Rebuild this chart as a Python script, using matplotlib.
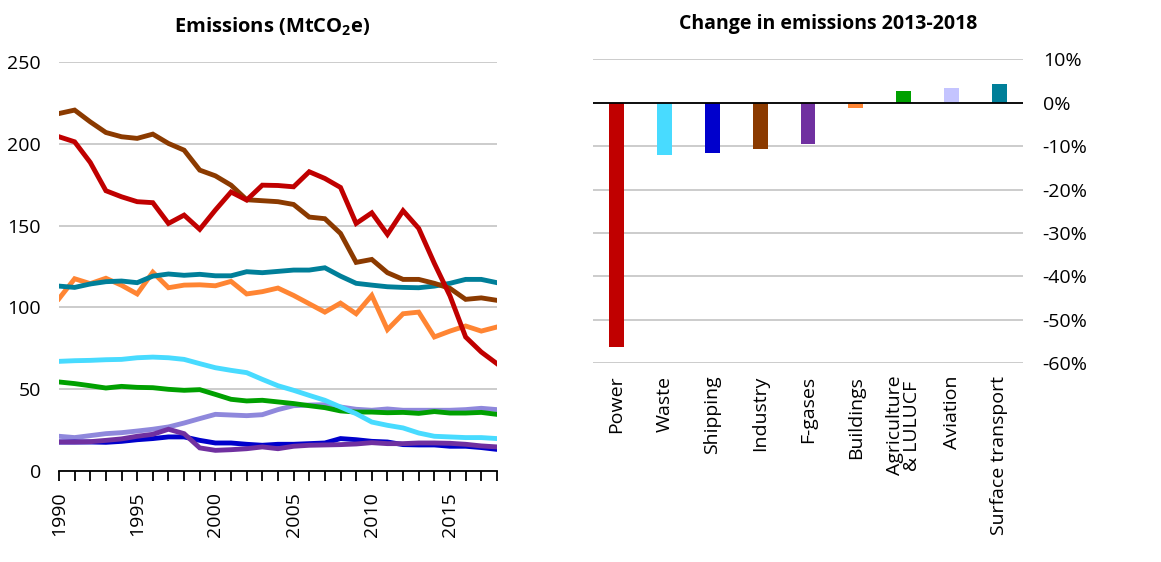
import matplotlib
matplotlib.use("Agg")
import matplotlib.pyplot as plt
import numpy as np

plt.rcParams['font.family'] = ['Open Sans', 'DejaVu Sans']

years = list(range(1990, 2019))

power = [204.3, 201.2, 188.6, 171.3, 167.6, 164.6, 164.0, 151.3, 156.4, 147.7,
         159.5, 170.5, 165.6, 174.7, 174.5, 173.7, 182.9, 178.8, 173.3, 151.3,
         157.8, 144.6, 159.1, 148.3, 126.9, 107.0, 81.9, 72.7, 65.6]
industry = [218.5, 220.6, 213.4, 206.9, 204.3, 203.3, 205.9, 200.2, 196.1, 183.9,
            180.4, 174.7, 165.8, 165.2, 164.6, 162.9, 155.2, 154.2, 145.2, 127.5,
            129.3, 121.2, 117.1, 117.1, 114.7, 111.6, 104.9, 105.8, 104.3]
surface_transport = [113.0, 112.2, 114.3, 115.7, 116.1, 115.1, 119.1, 120.4, 119.6, 120.2,
                     119.3, 119.3, 121.8, 121.2, 122.0, 122.8, 122.8, 124.2, 119.1, 114.7,
                     113.6, 112.6, 112.2, 112.0, 113.0, 114.7, 117.1, 117.1, 115.1]
buildings = [105.3, 117.5, 114.5, 117.8, 113.5, 108.2, 121.5, 112.0, 113.6, 113.8,
             113.2, 115.9, 108.2, 109.6, 111.8, 107.3, 102.2, 97.1, 102.6, 96.1,
             107.3, 86.4, 96.1, 97.1, 81.9, 85.5, 88.6, 85.5, 88.0]
waste = [67.0, 67.4, 67.6, 68.0, 68.2, 69.2, 69.6, 69.2, 68.2, 65.6,
         63.1, 61.5, 60.1, 56.0, 52.1, 49.3, 46.2, 43.2, 39.1, 35.0,
         29.9, 27.9, 26.3, 23.2, 21.2, 20.8, 20.4, 20.4, 19.8]
agriculture = [54.4, 53.4, 52.1, 50.7, 51.7, 51.1, 50.9, 49.9, 49.3, 49.7,
               46.8, 43.8, 42.8, 43.2, 42.2, 41.2, 39.9, 38.7, 36.7, 36.0,
               36.0, 35.6, 35.8, 35.2, 36.3, 35.4, 35.4, 35.8, 34.6]
aviation = [21.2, 20.4, 21.6, 22.8, 23.4, 24.4, 25.5, 26.9, 29.3, 32.0,
            34.6, 34.2, 33.8, 34.4, 37.5, 39.9, 40.3, 40.5, 39.1, 37.7,
            37.1, 37.9, 37.1, 37.1, 37.1, 37.1, 37.5, 38.3, 37.5]
shipping = [17.7, 17.7, 17.7, 17.5, 18.1, 19.1, 19.8, 20.8, 20.8, 18.7,
            17.1, 17.1, 16.3, 15.7, 16.3, 16.3, 16.7, 17.1, 19.8, 19.1,
            18.1, 17.7, 16.1, 15.9, 15.9, 15.1, 15.1, 14.3, 13.2]
fgases = [17.7, 17.7, 17.9, 18.7, 19.6, 21.2, 22.4, 25.5, 22.8, 14.1,
          12.6, 13.0, 13.6, 14.7, 13.6, 15.1, 15.7, 15.9, 16.1, 16.5,
          17.3, 16.7, 16.7, 17.1, 17.1, 16.9, 16.3, 15.3, 14.7]

categories = ['Power', 'Waste', 'Shipping', 'Industry', 'F-gases', 'Buildings',
              'Agriculture\n& LULUCF', 'Aviation', 'Surface transport']
change_pct = [-56.2, -12.1, -11.5, -10.7, -9.5, -1.3, 2.7, 3.5, 4.3]

c_power = '#C00000'
c_waste = '#48DBFF'
c_ship = '#0000CC'
c_ind = '#8B3A00'
c_fgas = '#7030A0'
c_build = '#FF8533'
c_agri = '#00A000'
c_avi_line = '#8F88DC'
c_avi_bar = '#C4C4FF'
c_surf = '#007F99'
bar_colors = [c_power, c_waste, c_ship, c_ind, c_fgas, c_build, c_agri, c_avi_bar, c_surf]

fig = plt.figure(figsize=(11.61, 5.62), dpi=100)
grid_c = '#C8C8C8'
fs = 14

# Left chart
ax1 = fig.add_axes([0.0508, 0.162, 0.3772, 0.7277])
series = [(aviation, c_avi_line), (shipping, c_ship), (fgases, c_fgas),
          (agriculture, c_agri), (waste, c_waste), (buildings, c_build),
          (surface_transport, c_surf), (industry, c_ind), (power, c_power)]
for vals, col in series:
    ax1.plot(years, vals, color=col, lw=3.5, solid_joinstyle='miter', zorder=3)
ax1.set_xlim(1990, 2018)
ax1.set_ylim(0, 250)
ax1.set_yticks([0, 50, 100, 150, 200, 250])
ax1.yaxis.grid(True, color=grid_c, lw=1.3)
ax1.set_axisbelow(True)
for s in ['top', 'right', 'left']:
    ax1.spines[s].set_visible(False)
ax1.spines['bottom'].set_color('black')
ax1.spines['bottom'].set_linewidth(1.3)
ax1.tick_params(axis='y', length=0, labelsize=fs, pad=13)
ax1.set_xticks(years)
ax1.set_xticklabels([str(y) if y % 5 == 0 else '' for y in years], rotation=90, fontsize=fs)
ax1.tick_params(axis='x', length=7, width=1.3, direction='out', pad=8)
fig.text(0.234, 0.952, 'Emissions (MtCO$_\\mathregular{2}$e)', ha='center', va='center',
         fontsize=14.5, fontweight='bold')

# Right chart
ax2 = fig.add_axes([0.5105, 0.3535, 0.3709, 0.541])
x = np.arange(len(categories))
ax2.bar(x, change_pct, width=0.31, color=bar_colors, zorder=3)
ax2.axhline(0, color='black', lw=1.3, zorder=4)
ax2.set_xlim(-0.5, 8.5)
ax2.set_ylim(-60, 10)
ax2.set_yticks(range(-60, 11, 10))
ax2.set_yticklabels([f'{v}%' for v in range(-60, 11, 10)])
ax2.yaxis.tick_right()
ax2.yaxis.grid(True, color=grid_c, lw=1.3)
ax2.set_axisbelow(True)
for s in ax2.spines.values():
    s.set_visible(False)
ax2.tick_params(axis='y', length=0, labelsize=fs, pad=14)
ax2.set_xticks(x)
ax2.set_xticklabels(categories, rotation=90, fontsize=fs, va='top', ha='center',
                    linespacing=0.95)
ax2.tick_params(axis='x', length=0, pad=9)
fig.text(0.713, 0.958, 'Change in emissions 2013-2018', ha='center', va='center',
         fontsize=14, fontweight='bold')

fig.savefig('out.png', dpi=100)
